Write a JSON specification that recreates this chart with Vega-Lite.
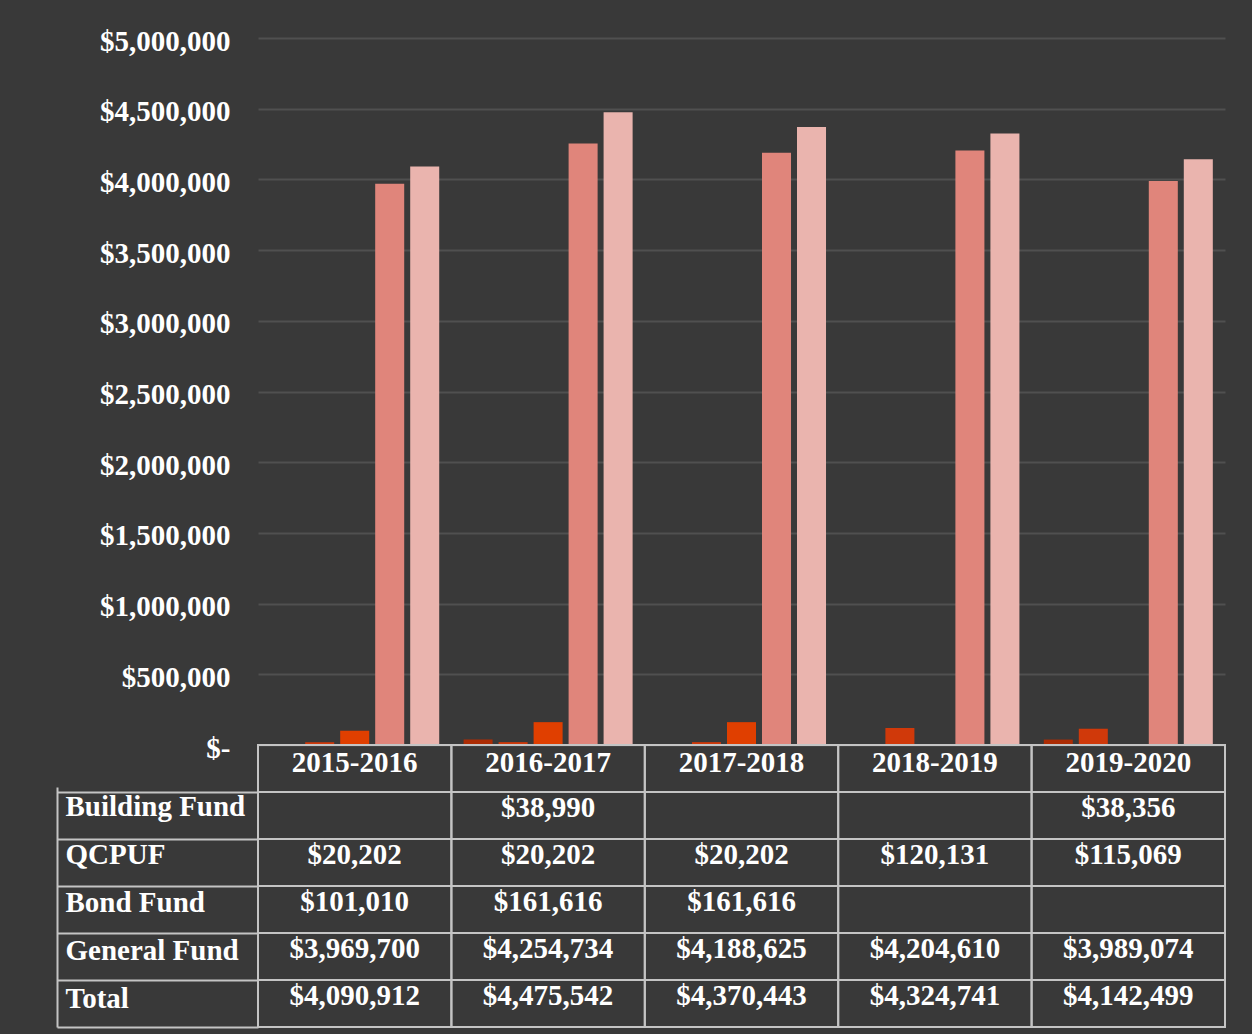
{
  "$schema": "https://vega.github.io/schema/vega-lite/v6.json",
  "background": "#393939",
  "padding": {"left": 56, "top": 27, "right": 26, "bottom": 6},
  "datasets": {
    "funds": [
      {"year": "2015-2016", "fund": "Building Fund", "value": null},
      {"year": "2015-2016", "fund": "QCPUF", "value": 20202},
      {"year": "2015-2016", "fund": "Bond Fund", "value": 101010},
      {"year": "2015-2016", "fund": "General Fund", "value": 3969700},
      {"year": "2015-2016", "fund": "Total", "value": 4090912},
      {"year": "2016-2017", "fund": "Building Fund", "value": 38990},
      {"year": "2016-2017", "fund": "QCPUF", "value": 20202},
      {"year": "2016-2017", "fund": "Bond Fund", "value": 161616},
      {"year": "2016-2017", "fund": "General Fund", "value": 4254734},
      {"year": "2016-2017", "fund": "Total", "value": 4475542},
      {"year": "2017-2018", "fund": "Building Fund", "value": null},
      {"year": "2017-2018", "fund": "QCPUF", "value": 20202},
      {"year": "2017-2018", "fund": "Bond Fund", "value": 161616},
      {"year": "2017-2018", "fund": "General Fund", "value": 4188625},
      {"year": "2017-2018", "fund": "Total", "value": 4370443},
      {"year": "2018-2019", "fund": "Building Fund", "value": null},
      {"year": "2018-2019", "fund": "QCPUF", "value": 120131},
      {"year": "2018-2019", "fund": "Bond Fund", "value": null},
      {"year": "2018-2019", "fund": "General Fund", "value": 4204610},
      {"year": "2018-2019", "fund": "Total", "value": 4324741},
      {"year": "2019-2020", "fund": "Building Fund", "value": 38356},
      {"year": "2019-2020", "fund": "QCPUF", "value": 115069},
      {"year": "2019-2020", "fund": "Bond Fund", "value": null},
      {"year": "2019-2020", "fund": "General Fund", "value": 3989074},
      {"year": "2019-2020", "fund": "Total", "value": 4142499}
    ]
  },
  "spacing": 0,
  "bounds": "flush",
  "vconcat": [
    {
      "width": 967,
      "height": 707,
      "data": {"name": "funds"},
      "mark": {"type": "bar"},
      "encoding": {
        "x": {"field": "year", "type": "nominal", "sort": null, "scale": {"paddingInner": 0, "paddingOuter": 0}, "axis": null},
        "xOffset": {"field": "fund", "type": "nominal", "sort": ["Building Fund", "QCPUF", "Bond Fund", "General Fund", "Total"], "scale": {"paddingInner": 0.171, "paddingOuter": 0.348}},
        "y": {
          "field": "value", "type": "quantitative",
          "scale": {"domain": [0, 5000000], "nice": false},
          "axis": {
            "values": [0, 500000, 1000000, 1500000, 2000000, 2500000, 3000000, 3500000, 4000000, 4500000, 5000000],
            "labelExpr": "datum.value == 0 ? '$-' : format(datum.value, '$,.0f')",
            "labelFont": "Liberation Serif", "labelFontSize": 29, "labelFontWeight": "bold", "labelColor": "#ffffff",
            "labelPadding": 28, "labelOffset": 3, "ticks": false, "domain": false,
            "gridColor": "#505050", "gridWidth": 2, "title": null
          }
        },
        "color": {
          "field": "fund", "type": "nominal",
          "scale": {"domain": ["Building Fund", "QCPUF", "Bond Fund", "General Fund", "Total"], "range": ["#AC2C04", "#D0390A", "#E03F00", "#E0857B", "#EAB4AE"]},
          "legend": null
        }
      }
    },
    {
      "width": 967,
      "height": 282,
      "data": {"name": "funds"},
      "layer": [
        {
          "layer": [
            {
              "mark": {"type": "rect", "fill": "transparent", "stroke": "#c4c4c4", "strokeWidth": 2},
              "encoding": {
                "x": {"field": "year", "type": "nominal", "sort": null, "scale": {"paddingInner": 0, "paddingOuter": 0}, "axis": null},
                "y": {
                  "field": "fund", "type": "nominal",
                  "scale": {"domain": ["Year", "Building Fund", "QCPUF", "Bond Fund", "General Fund", "Total"], "paddingInner": 0, "paddingOuter": 0},
                  "axis": {"bandPosition": 1, "tickSize": 201, "tickColor": "#c4c4c4", "tickWidth": 2, "labels": false, "domain": false, "grid": false, "title": null}
                }
              }
            },
            {
              "transform": [{"filter": "datum.fund == 'Total'"}],
              "mark": {"type": "rect", "fill": "transparent", "stroke": "#c4c4c4", "strokeWidth": 2},
              "encoding": {
                "x": {"field": "year", "type": "nominal", "sort": null},
                "y": {"datum": "Year", "type": "nominal"}
              }
            },
            {
              "transform": [{"filter": "datum.fund == 'Total'"}],
              "mark": {"type": "text", "font": "Liberation Serif", "fontSize": 29, "fontWeight": "bold", "color": "#ffffff", "dy": -6},
              "encoding": {
                "x": {"field": "year", "type": "nominal", "sort": null},
                "y": {"datum": "Year", "type": "nominal"},
                "text": {"field": "year", "type": "nominal"}
              }
            },
            {
              "transform": [{"filter": "datum.value != null"}],
              "mark": {"type": "text", "font": "Liberation Serif", "fontSize": 29, "fontWeight": "bold", "color": "#ffffff", "dy": -8},
              "encoding": {
                "x": {"field": "year", "type": "nominal", "sort": null},
                "y": {"field": "fund", "type": "nominal"},
                "text": {"field": "value", "type": "quantitative", "format": "$,.0f"}
              }
            }
          ]
        },
        {
          "transform": [{"filter": "datum.year == '2015-2016'"}],
          "mark": {"type": "point", "opacity": 0},
          "encoding": {
            "y": {
              "field": "fund", "type": "nominal",
              "scale": {"domain": ["Building Fund", "QCPUF", "Bond Fund", "General Fund", "Total"], "range": [42, 282], "paddingInner": 0, "paddingOuter": 0},
              "axis": {
                "orient": "left", "offset": 201, "domainColor": "#c4c4c4", "domainWidth": 2,
                "ticks": false, "grid": false, "labelAlign": "left", "labelPadding": -8, "labelOffset": -5,
                "labelFont": "Liberation Serif", "labelFontSize": 29, "labelFontWeight": "bold", "labelColor": "#ffffff",
                "title": null
              }
            }
          }
        }
      ],
      "resolve": {"scale": {"y": "independent"}, "axis": {"y": "independent"}}
    }
  ],
  "config": {"view": {"stroke": null}, "font": "Liberation Serif"}
}
